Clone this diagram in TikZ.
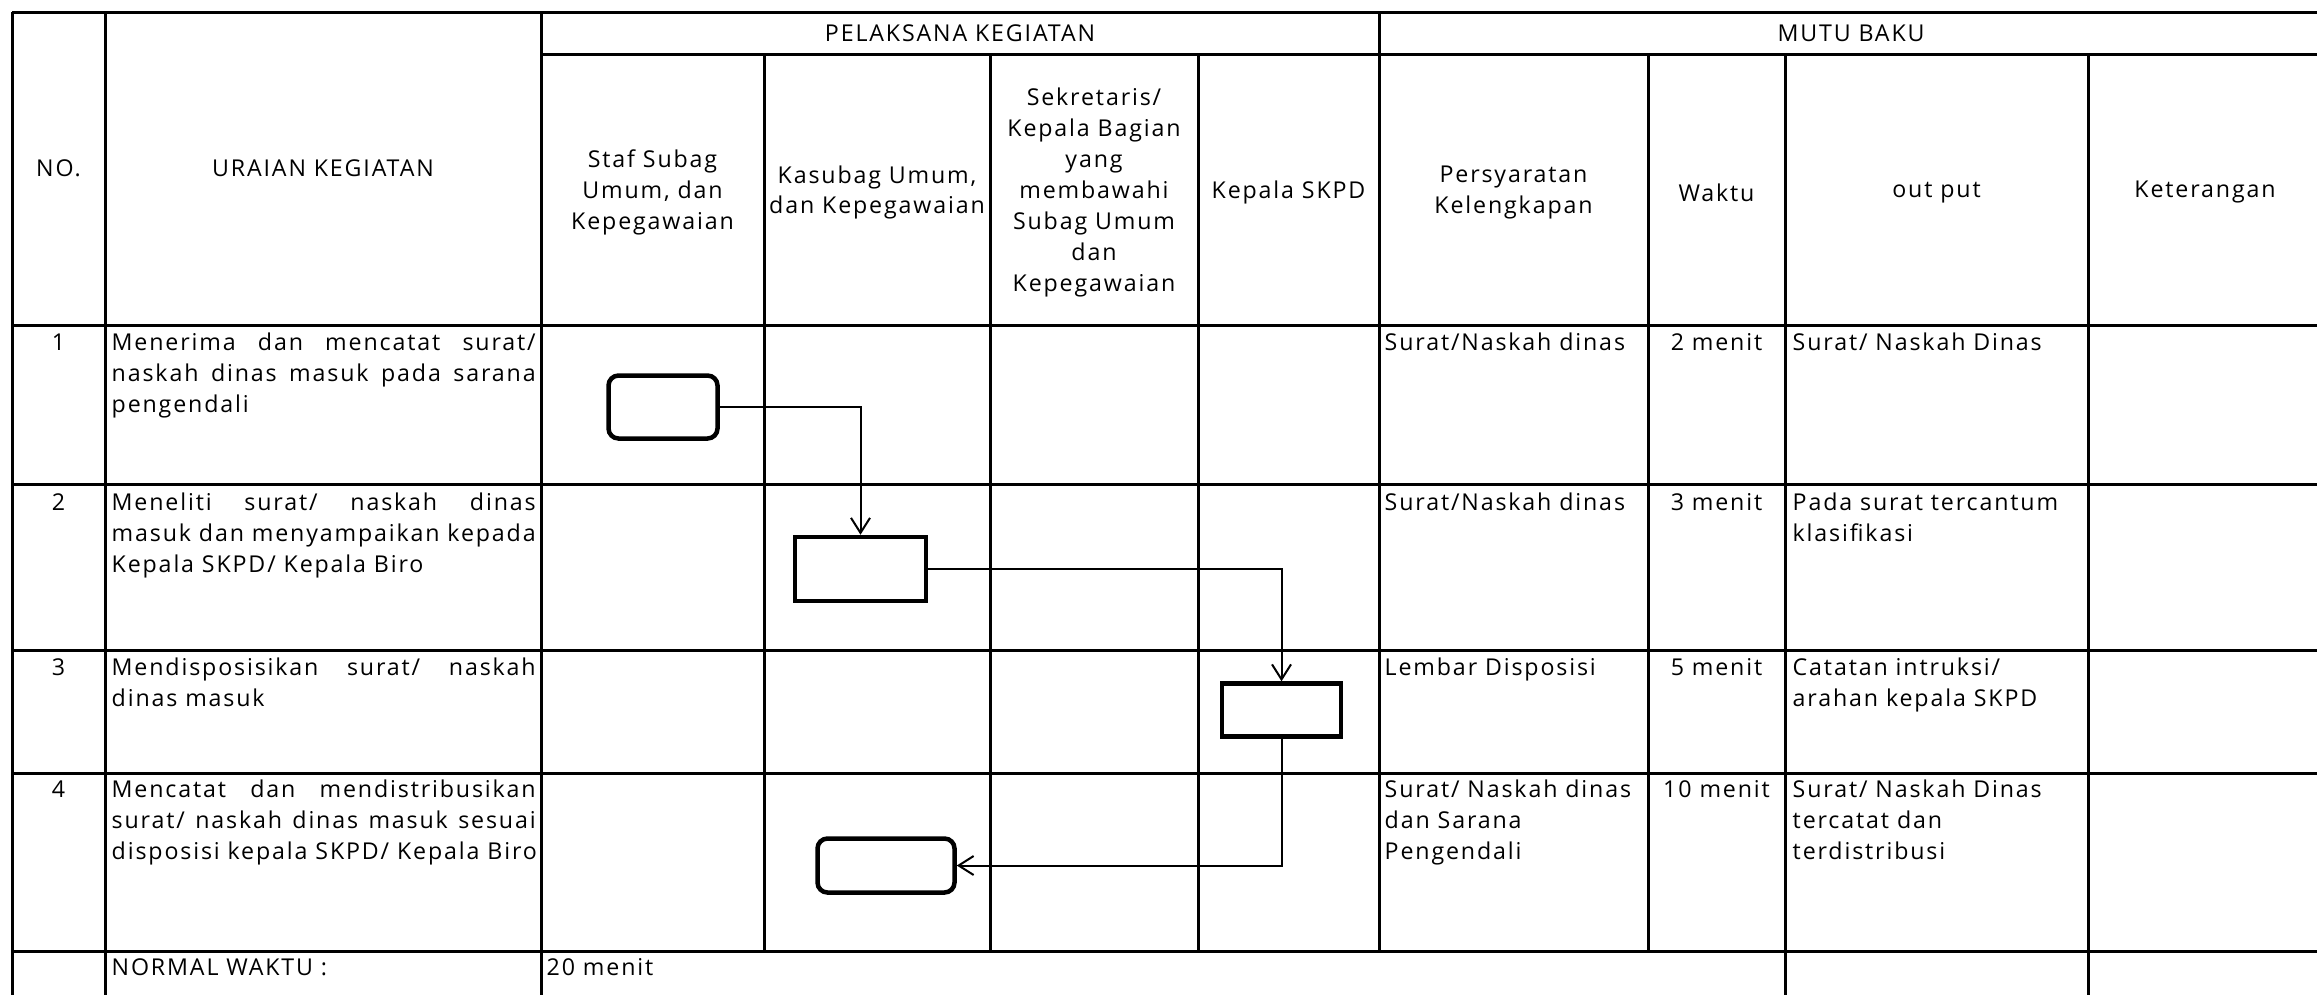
\documentclass[tikz,border=0pt]{standalone}
\usepackage{fontspec}
\setmainfont{Open Sans}[LetterSpace=8]
\usepackage{tikz}
\usetikzlibrary{arrows.meta}

\newcommand{\cellfont}{\fontsize{6.6}{8.8}\selectfont}
\newcommand{\jline}[1]{\makebox[42.4mm][s]{#1}}

\begin{document}
\begin{tikzpicture}[x=0.1mm, y=-0.1mm, every node/.style={font=\cellfont, inner sep=0pt},
  grid/.style={line width=0.3mm},
  cell/.style={anchor=north west, align=left},
  head/.style={align=center},
  act/.style={draw, line width=0.45mm},
  term/.style={act, rounded corners=1mm},
  flow/.style={line width=0.2mm, -{Straight Barb[length=1.5mm,width=1.9mm]}}]
  \useasboundingbox (0,0) rectangle (2317,995);
  \fill[white] (0,0) rectangle (2317,995);
  \draw[grid] (12,12) -- (2317,12);
  \draw[grid] (541,54) -- (2317,54);
  \draw[grid] (12,325) -- (2317,325);
  \draw[grid] (12,484) -- (2317,484);
  \draw[grid] (12,650) -- (2317,650);
  \draw[grid] (12,773) -- (2317,773);
  \draw[grid] (12,951) -- (2317,951);
  \draw[grid] (12,12) -- (12,995);
  \draw[grid] (105,12) -- (105,995);
  \draw[grid] (541,12) -- (541,995);
  \draw[grid] (764,54) -- (764,951);
  \draw[grid] (990,54) -- (990,951);
  \draw[grid] (1198,54) -- (1198,951);
  \draw[grid] (1379,12) -- (1379,951);
  \draw[grid] (1648,54) -- (1648,951);
  \draw[grid] (1785,54) -- (1785,995);
  \draw[grid] (2088,54) -- (2088,995);
  \node[head] (pk) at (960,33) {PELAKSANA KEGIATAN};
  \node[head] (mb) at (1851,33) {MUTU BAKU};
  \node[head] (no) at (58.5,168.5) {NO.};
  \node[head] (ur) at (323,168.5) {URAIAN KEGIATAN};
  \node[head] (h1) at (652.5,192.5) {Staf Subag\\Umum, dan\\Kepegawaian};
  \node[head] (h2) at (877,192.5) {Kasubag Umum,\\dan Kepegawaian};
  \node[head] (h3) at (1094,192.5) {Sekretaris/\\Kepala Bagian\\yang\\membawahi\\Subag Umum\\dan\\Kepegawaian};
  \node[head] (h4) at (1288.5,192.5) {Kepala SKPD};
  \node[head] (h5) at (1513.5,192.5) {Persyaratan\\Kelengkapan};
  \node[head] (h6) at (1716.5,192.5) {Waktu};
  \node[head] (h7) at (1936.5,192.5) {out put};
  \node[head] (h8) at (2205,192.5) {Keterangan};
  \node[anchor=north] (n1) at (58.5,328.3) {\strut 1};
  \node[anchor=north] (n2) at (58.5,488.3) {\strut 2};
  \node[anchor=north] (n3) at (58.5,653.3) {\strut 3};
  \node[anchor=north] (n4) at (58.5,775.3) {\strut 4};
  \node[cell] (u1) at (111,328.3) {\strut\jline{Menerima dan mencatat surat/}\\\jline{naskah dinas masuk pada sarana}\\pengendali};
  \node[cell] (u2) at (111,488.3) {\strut\jline{Meneliti surat/ naskah dinas}\\\jline{masuk dan menyampaikan kepada}\\Kepala SKPD/ Kepala Biro};
  \node[cell] (u3) at (111,653.3) {\strut\jline{Mendisposisikan surat/ naskah}\\dinas masuk};
  \node[cell] (u4) at (111,775.3) {\strut\jline{Mencatat dan mendistribusikan}\\\jline{surat/ naskah dinas masuk sesuai}\\disposisi kepala SKPD/ Kepala Biro};
  \node[cell] (p1) at (1384,328.3) {\strut Surat/Naskah dinas};
  \node[cell] (p2) at (1384,488.3) {\strut Surat/Naskah dinas};
  \node[cell] (p3) at (1384,653.3) {\strut Lembar Disposisi};
  \node[cell] (p4) at (1384,775.3) {\strut Surat/ Naskah dinas\\dan Sarana\\Pengendali};
  \node[anchor=north] (w1) at (1716.5,328.3) {\strut 2 menit};
  \node[anchor=north] (w2) at (1716.5,488.3) {\strut 3 menit};
  \node[anchor=north] (w3) at (1716.5,653.3) {\strut 5 menit};
  \node[anchor=north] (w4) at (1716.5,775.3) {\strut 10 menit};
  \node[cell] (o1) at (1792,328.3) {\strut Surat/ Naskah Dinas};
  \node[cell] (o2) at (1792,488.3) {\strut Pada surat tercantum\\klasifikasi};
  \node[cell] (o3) at (1792,653.3) {\strut Catatan intruksi/\\arahan kepala SKPD};
  \node[cell] (o4) at (1792,775.3) {\strut Surat/ Naskah Dinas\\tercatat dan\\terdistribusi};
  \node[cell] (nw) at (111,953.3) {\strut NORMAL WAKTU :};
  \node[cell] (tot) at (546,953.3) {\strut 20 menit};
  \node[term, minimum width=10.9mm, minimum height=6.3mm] (b1) at (663,407) {};
  \node[act, minimum width=13.1mm, minimum height=6.4mm] (b2) at (860.5,569) {};
  \node[act, minimum width=11.9mm, minimum height=5.3mm] (b3) at (1281.5,710) {};
  \node[term, minimum width=13.7mm, minimum height=5.4mm] (b4) at (886,865.5) {};
  \draw[flow] (b1.east) -| (b2.north);
  \draw[flow] (b2.east) -| (b3.north);
  \draw[flow] (b3.south) |- (b4.east);
\end{tikzpicture}
\end{document}
